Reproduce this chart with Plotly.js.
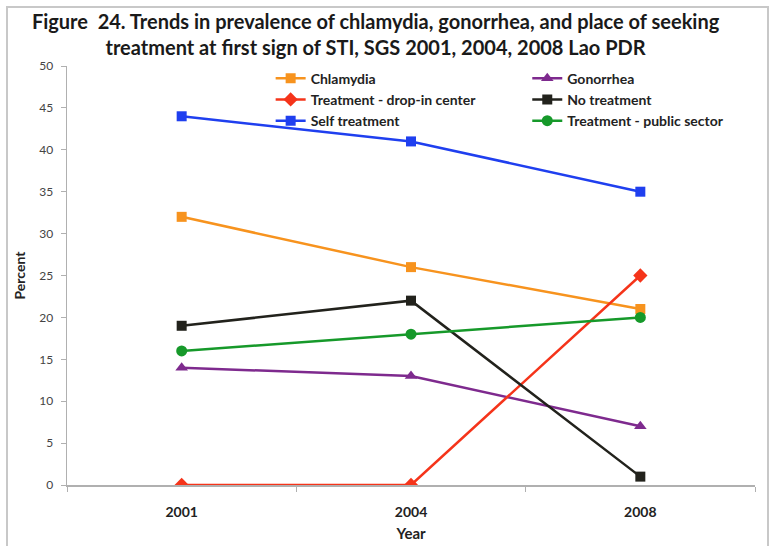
<!DOCTYPE html>
<html>
<head>
<meta charset="utf-8">
<script src="https://cdn.plot.ly/plotly-3.0.1.min.js"></script>
<style>html,body{margin:0;padding:0;background:#fff;}#chart{width:776px;height:546px;}</style>
</head>
<body>
<div id="chart"></div>
<script>
var years = ["2001", "2004", "2008"];
var chlamydia = [32, 26, 21];
var gonorrhea = [14, 13, 7];
var dropIn = [0, 0, 25];
var noTreatment = [19, 22, 1];
var selfTreatment = [44, 41, 35];
var publicSector = [16, 18, 20];

var F = "Lato, 'Open Sans', sans-serif";

function tr(name, y, color, symbol, legend, msize) {
  return {
    type: "scatter", mode: "lines+markers", name: name, x: years, y: y,
    line: {color: color, width: 2.5},
    marker: {color: color, symbol: symbol, size: msize || 10},
    legend: legend
  };
}

var data = [
  tr("Chlamydia", chlamydia, "#F7931E", "square", "legend", 10),
  tr("Gonorrhea", gonorrhea, "#7E2A8E", "triangle-up", "legend2", 11),
  tr("Treatment - drop-in center", dropIn, "#F5341A", "diamond", "legend", 11),
  tr("No treatment", noTreatment, "#22221C", "square", "legend2", 10),
  tr("Self treatment", selfTreatment, "#1F3FEF", "square", "legend", 10),
  tr("Treatment - public sector", publicSector, "#16992A", "circle", "legend2", 11)
];

var legFont = {family: F, size: 14, color: "#222", weight: "bold"};

var layout = {
  width: 776, height: 546,
  margin: {l: 67, r: 21, t: 66, b: 61},
  paper_bgcolor: "#fff", plot_bgcolor: "#fff",
  font: {family: F, color: "#222"},
  title: {
    text: "<b>Figure  24. Trends in prevalence of chlamydia, gonorrhea, and place of seeking<br>treatment at first sign of STI, SGS 2001, 2004, 2008 Lao PDR</b>",
    font: {family: F, size: 20, color: "#1a1a1a"},
    x: 0.484, xanchor: "center", xref: "container",
    y: 0.946, yanchor: "top", yref: "container"
  },
  xaxis: {
    type: "category", tickson: "boundaries",
    range: [-0.5, 2.5],
    showline: true, linecolor: "#b0b0b0", linewidth: 1.5,
    ticks: "outside", ticklen: 5, tickcolor: "#b0b0b0",
    ticklabelstandoff: 14,
    showgrid: false, zeroline: false,
    tickfont: {family: F, size: 14, color: "#222", weight: "bold"},
    title: {text: "<b>Year</b>", font: {family: F, size: 15, color: "#222"}, standoff: 9}
  },
  yaxis: {
    range: [0, 50], dtick: 5,
    showline: true, linecolor: "#b0b0b0", linewidth: 1.5,
    ticks: "outside", ticklen: 5, tickcolor: "#b0b0b0",
    ticklabelstandoff: 5,
    showgrid: false, zeroline: false,
    tickfont: {family: F, size: 12, color: "#444"},
    title: {text: "<b>Percent</b>", font: {family: F, size: 14, color: "#222"}, standoff: 10}
  },
  showlegend: true,
  legend: {
    x: 0.296, y: 1.008, xanchor: "left", yanchor: "top",
    bgcolor: "rgba(0,0,0,0)", tracegroupgap: 0, itemwidth: 30,
    font: legFont, traceorder: "normal"
  },
  legend2: {
    x: 0.669, y: 1.008, xanchor: "left", yanchor: "top",
    bgcolor: "rgba(0,0,0,0)", tracegroupgap: 0, itemwidth: 30,
    font: legFont, traceorder: "normal"
  },
  shapes: [{
    type: "rect", xref: "paper", yref: "paper",
    x0: -0.0872, x1: 1.0189, y0: -0.16, y1: 1.1408,
    line: {color: "#c8c8c8", width: 2}, fillcolor: "rgba(0,0,0,0)", layer: "below"
  }]
};

Plotly.newPlot("chart", data, layout, {displayModeBar: false, staticPlot: true});
</script>
</body>
</html>
